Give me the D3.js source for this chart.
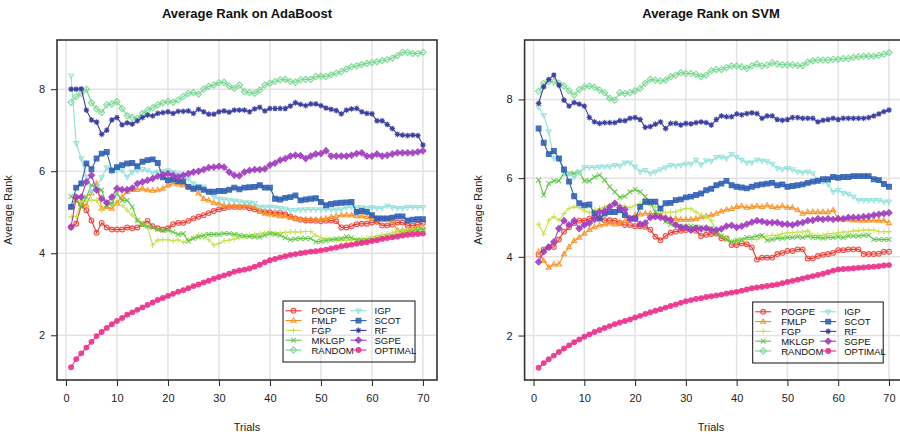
<!DOCTYPE html>
<html><head><meta charset="utf-8">
<script src="https://cdn.jsdelivr.net/npm/d3@7"></script>
<style>body{margin:0;background:#fff}svg{display:block;font-family:"Liberation Sans",Arial,Helvetica,sans-serif}</style>
</head><body><svg id="c" width="900" height="434"></svg>
<script>
const trials = d3.range(1, 71);
const seriesNames = ["POGPE","FMLP","FGP","MKLGP","RANDOM","IGP","SCOT","RF","SGPE","OPTIMAL"];
const xTicks = [0,10,20,30,40,50,60,70];
const yTicks = [2,4,6,8];
const titles = ["Average Rank on AdaBoost","Average Rank on SVM"];

// ---- AdaBoost ----
const ada_POGPE = [4.64,4.72,5.17,5.05,4.80,4.50,4.74,4.63,4.58,4.58,4.58,4.63,4.61,4.63,4.71,4.79,4.66,4.61,4.58,4.61,4.71,4.74,4.74,4.79,4.85,4.89,4.93,4.98,5.03,5.07,5.10,5.13,5.13,5.13,5.13,5.10,5.07,5.03,5.01,5.00,4.98,4.99,4.95,4.90,4.85,4.82,4.80,4.80,4.79,4.78,4.79,4.80,4.78,4.63,4.63,4.66,4.71,4.72,4.72,4.75,4.77,4.68,4.68,4.70,4.75,4.75,4.68,4.68,4.70,4.74];
const ada_FMLP = [5.13,5.29,5.21,5.17,5.46,5.70,5.09,5.13,5.09,5.23,5.37,5.50,5.55,5.55,5.58,5.54,5.53,5.54,5.58,5.66,5.70,5.68,5.66,5.62,5.55,5.46,5.33,5.29,5.23,5.21,5.17,5.15,5.15,5.13,5.17,5.17,5.13,5.01,4.97,4.95,4.93,4.91,4.90,4.87,4.85,4.82,4.82,4.82,4.82,4.83,4.85,4.89,4.91,4.93,4.93,4.93,4.91,4.91,4.89,4.85,4.85,4.82,4.82,4.78,4.56,4.56,4.59,4.59,4.62,4.62];
const ada_FGP = [4.89,4.90,5.29,5.27,5.30,5.29,5.05,5.21,5.23,5.17,5.17,5.05,4.93,4.80,4.71,4.63,4.20,4.32,4.33,4.33,4.30,4.33,4.27,4.33,4.38,4.44,4.38,4.33,4.20,4.24,4.30,4.32,4.35,4.38,4.40,4.44,4.46,4.48,4.50,4.52,4.50,4.50,4.51,4.52,4.52,4.52,4.53,4.53,4.43,4.38,4.36,4.34,4.32,4.32,4.32,4.32,4.34,4.36,4.36,4.40,4.42,4.45,4.47,4.50,4.56,4.56,4.57,4.58,4.59,4.60];
const ada_MKLGP = [5.39,5.29,5.13,5.37,5.66,5.62,5.54,5.17,5.21,5.46,5.29,5.29,5.13,4.80,4.71,4.66,4.63,4.58,4.56,4.56,4.52,4.46,4.48,4.30,4.36,4.40,4.44,4.46,4.46,4.46,4.48,4.48,4.46,4.44,4.42,4.41,4.40,4.40,4.44,4.48,4.46,4.44,4.38,4.33,4.35,4.36,4.36,4.36,4.28,4.29,4.31,4.33,4.35,4.36,4.40,4.38,4.32,4.32,4.32,4.33,4.36,4.38,4.40,4.41,4.44,4.48,4.52,4.53,4.56,4.58];
const ada_RANDOM = [7.68,7.82,7.90,8.00,7.67,7.52,7.43,7.62,7.64,7.70,7.53,7.35,7.31,7.29,7.41,7.49,7.55,7.62,7.67,7.70,7.68,7.74,7.82,7.90,7.92,7.88,8.00,8.07,8.10,8.16,8.17,8.08,8.02,8.10,7.94,7.92,7.90,7.98,8.10,8.15,8.19,8.23,8.24,8.19,8.17,8.23,8.24,8.24,8.31,8.32,8.31,8.35,8.39,8.43,8.49,8.55,8.57,8.60,8.63,8.65,8.67,8.70,8.72,8.76,8.82,8.90,8.90,8.87,8.87,8.90];
const ada_IGP = [8.33,6.68,6.31,5.86,5.50,5.62,5.85,6.09,6.00,6.02,6.02,5.86,5.98,6.02,6.05,6.02,5.96,5.98,6.00,6.02,5.98,5.94,5.90,5.82,5.70,5.64,5.62,5.50,5.37,5.33,5.31,5.30,5.28,5.26,5.24,5.24,5.22,5.13,5.13,5.13,5.12,5.10,5.08,5.05,5.05,5.06,5.07,5.07,5.07,5.07,5.07,5.07,5.06,5.07,5.12,5.13,5.12,5.12,5.10,5.12,5.10,5.10,5.16,5.12,5.10,5.10,5.12,5.13,5.12,5.12];
const ada_SCOT = [5.13,5.60,5.70,6.19,6.05,6.31,6.43,6.47,6.02,6.10,6.15,6.19,6.20,6.12,6.23,6.27,6.29,6.20,5.85,5.78,5.80,5.76,5.75,5.62,5.58,5.60,5.55,5.50,5.50,5.52,5.52,5.55,5.60,5.56,5.60,5.61,5.62,5.66,5.60,5.60,5.33,5.31,5.35,5.37,5.41,5.29,5.31,5.33,5.34,5.25,5.17,5.20,5.22,5.23,5.24,5.25,5.01,5.03,5.01,4.93,4.85,4.85,4.85,4.87,4.90,4.90,4.80,4.82,4.83,4.83];
const ada_RF = [8.00,8.00,8.01,7.49,7.25,7.20,6.90,7.00,7.25,7.31,7.13,7.18,7.15,7.23,7.31,7.37,7.35,7.41,7.43,7.45,7.41,7.46,7.46,7.47,7.41,7.51,7.45,7.39,7.39,7.45,7.47,7.44,7.49,7.49,7.49,7.45,7.52,7.56,7.47,7.53,7.53,7.53,7.53,7.59,7.67,7.63,7.60,7.64,7.64,7.60,7.54,7.51,7.48,7.40,7.49,7.52,7.53,7.45,7.41,7.40,7.23,7.23,7.14,7.04,6.90,6.88,6.87,6.88,6.87,6.64];
const ada_SGPE = [4.64,5.37,5.37,5.74,5.90,5.54,5.33,5.23,5.37,5.58,5.55,5.55,5.59,5.70,5.74,5.78,5.82,5.88,5.92,5.94,5.90,5.86,5.90,5.94,5.98,6.00,6.04,6.09,6.10,6.12,6.10,5.98,5.90,5.89,5.98,6.02,6.04,6.04,6.06,6.15,6.20,6.27,6.31,6.37,6.39,6.38,6.31,6.37,6.42,6.43,6.50,6.37,6.37,6.37,6.37,6.39,6.43,6.45,6.37,6.37,6.42,6.37,6.39,6.42,6.45,6.45,6.45,6.45,6.47,6.50];
const ada_OPTIMAL = [1.22,1.42,1.56,1.70,1.84,1.98,2.08,2.18,2.27,2.35,2.42,2.50,2.56,2.62,2.68,2.74,2.80,2.86,2.91,2.96,3.01,3.06,3.10,3.15,3.20,3.24,3.29,3.33,3.38,3.42,3.46,3.50,3.55,3.58,3.60,3.63,3.67,3.72,3.78,3.83,3.86,3.90,3.93,3.96,3.98,4.00,4.02,4.04,4.05,4.07,4.09,4.12,4.14,4.17,4.19,4.21,4.23,4.25,4.27,4.30,4.32,4.35,4.37,4.39,4.41,4.43,4.45,4.46,4.47,4.48];

// ---- SVM ----
const svm_POGPE = [4.05,4.19,4.24,4.25,4.44,4.64,4.75,4.86,4.92,4.92,4.97,5.01,4.99,4.93,4.93,4.92,4.86,4.81,4.81,4.78,4.78,4.76,4.69,4.51,4.42,4.53,4.61,4.64,4.66,4.68,4.69,4.66,4.53,4.56,4.58,4.59,4.47,4.47,4.30,4.30,4.34,4.32,4.24,3.93,3.98,3.98,3.98,4.07,4.10,4.15,4.15,4.19,4.19,3.96,3.96,4.02,4.05,4.07,4.10,4.17,4.17,4.19,4.19,4.19,4.07,4.07,4.07,4.08,4.13,4.13];
const svm_FMLP = [4.13,3.90,3.73,3.81,3.81,4.07,4.25,4.41,4.49,4.59,4.69,4.76,4.80,4.83,4.85,4.83,4.88,4.91,4.97,5.06,5.08,5.10,5.10,5.10,5.06,5.02,4.97,4.97,4.95,4.95,4.95,4.97,5.01,5.03,5.06,5.10,5.16,5.20,5.22,5.27,5.29,5.25,5.27,5.29,5.27,5.31,5.27,5.25,5.29,5.25,5.25,5.19,5.10,5.14,5.14,5.14,5.14,5.14,5.19,4.97,4.95,4.95,4.93,4.93,4.92,4.93,4.93,4.92,4.92,4.86];
const svm_FGP = [4.83,4.58,4.93,5.02,4.93,5.10,5.23,5.27,5.25,5.17,5.12,5.19,5.23,5.27,5.31,5.36,5.31,5.29,5.25,5.31,5.36,5.36,5.31,5.27,5.19,5.12,5.14,5.14,5.19,5.23,5.22,5.14,5.06,5.02,4.92,4.64,4.55,4.47,4.38,4.41,4.42,4.44,4.44,4.44,4.49,4.53,4.55,4.55,4.59,4.61,4.61,4.63,4.63,4.66,4.55,4.55,4.55,4.59,4.59,4.61,4.63,4.63,4.66,4.66,4.68,4.68,4.68,4.64,4.64,4.64];
const svm_MKLGP = [5.95,5.57,5.86,5.93,5.93,6.12,6.12,6.12,6.16,5.93,5.93,6.03,6.08,5.95,5.78,5.65,5.51,5.54,5.65,5.71,5.65,5.53,5.36,5.14,5.06,4.89,4.83,4.83,4.78,4.76,4.78,4.76,4.75,4.70,4.72,4.61,4.53,4.44,4.38,4.42,4.44,4.49,4.49,4.53,4.55,4.42,4.44,4.47,4.47,4.49,4.49,4.51,4.49,4.53,4.49,4.49,4.47,4.49,4.49,4.51,4.49,4.53,4.53,4.53,4.55,4.55,4.44,4.44,4.44,4.44];
const svm_RANDOM = [8.21,8.41,8.45,8.45,8.41,8.34,8.22,8.11,8.25,8.32,8.34,8.31,8.24,8.17,8.03,7.98,8.17,8.15,8.17,8.22,8.28,8.41,8.51,8.49,8.47,8.49,8.58,8.62,8.68,8.66,8.66,8.64,8.58,8.62,8.73,8.76,8.76,8.81,8.85,8.85,8.83,8.79,8.85,8.90,8.85,8.87,8.93,8.90,8.88,8.88,8.88,8.86,8.86,8.95,8.98,9.00,9.00,9.00,9.02,9.02,9.04,9.04,9.07,9.08,9.10,9.10,9.10,9.12,9.15,9.19];
const svm_IGP = [7.80,7.60,7.18,6.50,6.50,6.12,6.12,6.03,6.14,6.27,6.27,6.27,6.29,6.29,6.29,6.33,6.31,6.39,6.39,6.29,6.16,6.20,6.12,6.16,6.22,6.27,6.33,6.31,6.33,6.36,6.36,6.46,6.34,6.45,6.43,6.53,6.54,6.50,6.61,6.54,6.46,6.39,6.39,6.47,6.44,6.42,6.36,6.25,6.22,6.25,6.22,6.16,6.14,6.16,6.12,5.97,5.91,5.85,5.65,5.69,5.62,5.60,5.53,5.44,5.44,5.44,5.44,5.44,5.40,5.40];
const svm_SCOT = [7.26,6.90,6.61,6.69,6.50,6.22,5.91,5.54,5.36,5.31,5.33,5.10,4.97,5.10,5.14,5.14,5.18,5.06,4.97,4.97,5.27,5.40,5.40,5.40,5.23,5.36,5.37,5.44,5.46,5.51,5.53,5.57,5.61,5.69,5.73,5.82,5.86,5.93,5.82,5.78,5.76,5.74,5.78,5.82,5.84,5.86,5.88,5.82,5.84,5.78,5.80,5.82,5.84,5.88,5.91,5.93,5.97,5.97,6.03,6.01,6.03,6.03,6.05,6.05,6.05,6.05,5.97,5.95,5.85,5.78];
const svm_RF = [7.90,8.32,8.51,8.62,8.36,7.98,7.83,7.92,7.88,7.83,7.54,7.43,7.39,7.41,7.41,7.41,7.46,7.46,7.52,7.54,7.49,7.29,7.31,7.37,7.43,7.26,7.39,7.39,7.35,7.39,7.38,7.41,7.43,7.41,7.35,7.49,7.58,7.56,7.56,7.63,7.61,7.64,7.66,7.64,7.52,7.58,7.58,7.49,7.47,7.49,7.54,7.54,7.52,7.52,7.52,7.43,7.47,7.49,7.52,7.49,7.52,7.52,7.52,7.52,7.52,7.54,7.58,7.63,7.69,7.73];
const svm_SGPE = [3.87,4.13,4.25,4.38,4.72,4.92,4.81,4.92,4.72,4.81,4.86,4.95,5.14,5.17,5.27,5.36,5.25,5.20,4.97,4.97,4.83,4.86,5.00,5.02,5.00,4.97,4.93,4.81,4.75,4.75,4.68,4.73,4.71,4.73,4.68,4.68,4.71,4.78,4.80,4.75,4.78,4.83,4.88,4.92,4.90,4.87,4.87,4.87,4.83,4.83,4.81,4.85,4.87,4.92,4.93,4.97,4.95,4.97,4.95,4.97,4.97,5.00,5.00,5.00,5.02,5.03,5.06,5.08,5.10,5.12];
const svm_OPTIMAL = [1.18,1.30,1.40,1.49,1.58,1.67,1.75,1.83,1.90,1.97,2.03,2.09,2.14,2.19,2.24,2.29,2.33,2.37,2.41,2.46,2.50,2.55,2.59,2.63,2.67,2.71,2.75,2.79,2.83,2.87,2.90,2.93,2.95,2.98,3.00,3.02,3.04,3.07,3.09,3.11,3.14,3.17,3.20,3.22,3.24,3.26,3.28,3.30,3.33,3.36,3.39,3.42,3.45,3.48,3.51,3.54,3.57,3.61,3.65,3.68,3.69,3.70,3.71,3.72,3.73,3.74,3.75,3.76,3.78,3.79];

const adaSeries = [ada_POGPE,ada_FMLP,ada_FGP,ada_MKLGP,ada_RANDOM,ada_IGP,ada_SCOT,ada_RF,ada_SGPE,ada_OPTIMAL];
const svmSeries = [svm_POGPE,svm_FMLP,svm_FGP,svm_MKLGP,svm_RANDOM,svm_IGP,svm_SCOT,svm_RF,svm_SGPE,svm_OPTIMAL];

// styles
const colors = ["#e8382f","#f98e1d","#c6e04c","#5ec53f","#72d68c","#8fe1da","#2f5fb3","#3a3ea0","#a13cbf","#eb2f8a"];
const shapes = ["circleO","triUp","plus","times","diamondO","triDown","square","star","diamond","circle"];

function markerPath(shape, s) {
  const p = d3.path();
  switch (shape) {
    case "circleO": case "circle": p.arc(0,0,s,0,2*Math.PI); break;
    case "triUp": p.moveTo(0,-s*1.15); p.lineTo(s*1.05,s*0.7); p.lineTo(-s*1.05,s*0.7); p.closePath(); break;
    case "triDown": p.moveTo(0,s*1.15); p.lineTo(s*1.05,-s*0.7); p.lineTo(-s*1.05,-s*0.7); p.closePath(); break;
    case "plus": p.moveTo(-s*1.2,0); p.lineTo(s*1.2,0); p.moveTo(0,-s*1.2); p.lineTo(0,s*1.2); break;
    case "times": p.moveTo(-s,-s); p.lineTo(s,s); p.moveTo(-s,s); p.lineTo(s,-s); break;
    case "diamondO": case "diamond": p.moveTo(0,-s*1.3); p.lineTo(s*1.3,0); p.lineTo(0,s*1.3); p.lineTo(-s*1.3,0); p.closePath(); break;
    case "square": p.rect(-s,-s,2*s,2*s); break;
    case "star": p.moveTo(-s*1.2,0); p.lineTo(s*1.2,0); p.moveTo(0,-s*1.2); p.lineTo(0,s*1.2);
      p.moveTo(-s*0.85,-s*0.85); p.lineTo(s*0.85,s*0.85); p.moveTo(-s*0.85,s*0.85); p.lineTo(s*0.85,-s*0.85); break;
  }
  return p.toString();
}
function drawMarker(g, shape, color, x, y, s) {
  const filled = ["square","diamond","circle"].includes(shape);
  const lineOnly = ["plus","times"].includes(shape);
  if (shape === "star") {
    g.append("circle").attr("cx",x).attr("cy",y).attr("r",s*0.8).attr("fill",color).attr("fill-opacity",0.8);
  }
  g.append("path").attr("d", markerPath(shape, s)).attr("transform",`translate(${x},${y})`)
    .attr("fill", filled ? color : (lineOnly || shape==="star" ? "none" : color))
    .attr("fill-opacity", filled ? 0.85 : 0.15)
    .attr("stroke", color).attr("stroke-opacity",0.85).attr("stroke-width", shape==="star"?1.2:1.1);
}

const svg = d3.select("#c");
const panels = [
  {title: titles[0], series: adaSeries, left: 57, right: 437, ydom: [0.91, 9.2], legX: 283, legY: 301, legW: 132, legH: 61, ylabX: 12, cx: 247},
  {title: titles[1], series: svmSeries, left: 524.6, right: 903, ydom: [0.87, 9.51], legX: 752.7, legY: 302, legW: 130.5, legH: 61, ylabX: 482, cx: 711}
];
const plotTop = 40, plotBottom = 380;

panels.forEach(P => {
  const x = d3.scaleLinear().domain([-1.76, 72.76]).range([P.left, P.right]);
  const y = d3.scaleLinear().domain(P.ydom).range([plotBottom, plotTop]);
  const g = svg.append("g");

  // grid
  g.append("g").selectAll("line").data(xTicks).join("line")
    .attr("x1", d => x(d)).attr("x2", d => x(d)).attr("y1", plotTop).attr("y2", plotBottom)
    .attr("stroke", "#e3e3e3").attr("stroke-width", 1.5);
  g.append("g").selectAll("line").data(yTicks).join("line")
    .attr("x1", P.left).attr("x2", P.right).attr("y1", d => y(d)).attr("y2", d => y(d))
    .attr("stroke", "#e3e3e3").attr("stroke-width", 1.5);

  // axes
  const xa = g.append("g").attr("transform", `translate(0,${plotBottom})`)
    .call(d3.axisBottom(x).tickValues(xTicks).tickSize(6).tickPadding(8).tickFormat(d3.format("d")));
  const ya = g.append("g").attr("transform", `translate(${P.left},0)`)
    .call(d3.axisLeft(y).tickValues(yTicks).tickSize(6).tickPadding(6).tickFormat(d3.format("d")));
  [xa, ya].forEach(a => {
    a.select(".domain").remove();
    a.selectAll("line").attr("stroke", "#222").attr("stroke-width", 1);
    a.selectAll("text").attr("font-size", 11).attr("fill", "#222").attr("font-family", "Liberation Sans, Arial, sans-serif");
  });

  // lines + markers
  const line = d3.line().x((d, i) => x(trials[i])).y(d => y(d));
  P.series.forEach((vals, k) => {
    g.append("path").datum(vals).attr("d", line).attr("fill", "none")
      .attr("stroke", colors[k]).attr("stroke-width", 1.1);
    const mg = g.append("g");
    vals.forEach((v, i) => drawMarker(mg, shapes[k], colors[k], x(trials[i]), y(v), 2.4));
  });

  // box
  g.append("rect").attr("x", P.left).attr("y", plotTop).attr("width", P.right - P.left).attr("height", plotBottom - plotTop)
    .attr("fill", "none").attr("stroke", "#333").attr("stroke-width", 1.6);

  // title & labels
  g.append("text").attr("x", P.cx).attr("y", 18).attr("text-anchor", "middle")
    .attr("font-size", 13).attr("font-weight", "bold").attr("fill", "#111").text(P.title);
  g.append("text").attr("x", P.cx).attr("y", 431).attr("text-anchor", "middle")
    .attr("font-size", 11).attr("fill", "#222").text("Trials");
  g.append("text").attr("transform", `translate(${P.ylabX},210) rotate(-90)`).attr("text-anchor", "middle")
    .attr("font-size", 11).attr("fill", "#222").text("Average Rank");

  // legend
  const L = g.append("g");
  L.append("rect").attr("x", P.legX).attr("y", P.legY).attr("width", P.legW).attr("height", P.legH)
    .attr("fill", "none").attr("stroke", "#111").attr("stroke-width", 1);
  seriesNames.forEach((name, k) => {
    const col = Math.floor(k / 5), row = k % 5;
    const ly = P.legY + 9.8 + row * 9.8;
    const lx0 = P.legX + (col ? 67.5 : 2.5), lx1 = lx0 + 16;
    L.append("line").attr("x1", lx0).attr("x2", lx1).attr("y1", ly).attr("y2", ly).attr("stroke", colors[k]).attr("stroke-width", 1.1);
    drawMarker(L, shapes[k], colors[k], (lx0 + lx1) / 2, ly, 2.4);
    L.append("text").attr("x", P.legX + (col ? 91.5 : 28.5)).attr("y", ly + 3.5).attr("font-size", 9.5)
      .attr("fill", "#111").text(name);
  });
});
</script></body></html>
